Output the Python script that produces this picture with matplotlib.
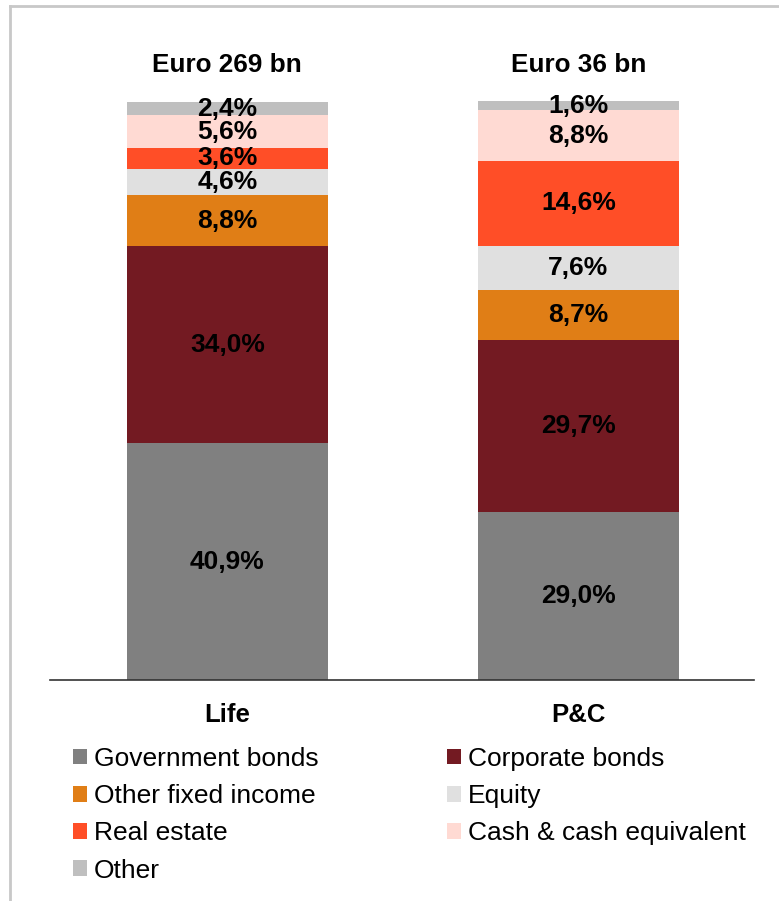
import matplotlib.pyplot as plt
from matplotlib.lines import Line2D
from matplotlib.patches import Patch

plt.rcParams['font.family'] = ['Liberation Sans', 'DejaVu Sans']

# Asset allocation per business line (%)
groups = ['Life', 'P&C']
totals = ['Euro 269 bn', 'Euro 36 bn']
categories = ['Government bonds', 'Corporate bonds', 'Other fixed income',
              'Equity', 'Real estate', 'Cash & cash equivalent', 'Other']
life = [40.9, 34.0, 8.8, 4.6, 3.6, 5.6, 2.4]
pc = [29.0, 29.7, 8.7, 7.6, 14.6, 8.8, 1.6]
colors = ['#808080', '#731A22', '#E07E16', '#E0E0E0', '#FF4E27', '#FFDAD3', '#BFBFBF']

fig = plt.figure(figsize=(7.79, 9.01), dpi=100)
ax = fig.add_axes([50 / 779, 1 - 680 / 901, 704 / 779, 579 / 901])

x = [0, 1]
width = 0.572
bottoms = [0.0, 0.0]
for i, cat in enumerate(categories):
    vals = [life[i], pc[i]]
    ax.bar(x, vals, width, bottom=bottoms, color=colors[i], label=cat)
    for j in range(2):
        ax.text(x[j], bottoms[j] + vals[j] / 2, f'{vals[j]:.1f}%'.replace('.', ','),
                ha='center', va='center', fontsize=19, fontweight='bold', color='black')
    bottoms = [bottoms[0] + vals[0], bottoms[1] + vals[1]]

for j in range(2):
    ax.text(x[j], 106.3, totals[j], ha='center', va='center', fontsize=18.8,
            fontweight='bold', clip_on=False)

ax.set_xlim(-0.505, 1.5)
ax.set_ylim(0, 100)
ax.set_xticks(x)
ax.set_xticklabels(groups, fontsize=18.5, fontweight='bold')
ax.tick_params(axis='x', length=0, pad=16.5)
ax.set_yticks([])
for side in ['left', 'right', 'top']:
    ax.spines[side].set_visible(False)
ax.spines['bottom'].set_color('#333333')
ax.spines['bottom'].set_linewidth(1.2)

# legend filled column-wise, so reorder to read row by row
order = [0, 2, 4, 6, 1, 3, 5]
handles = [Patch(facecolor=colors[k], edgecolor='none') for k in order]
labels = [categories[k] for k in order]
fig.legend(handles, labels, loc='upper left', bbox_to_anchor=(73 / 779, 1 - 747 / 901),
           ncol=2, frameon=False, fontsize=19, handlelength=0.53, handleheight=0.53,
           handletextpad=0.27, columnspacing=4.85, labelspacing=0.5, borderpad=0, borderaxespad=0)

# outer frame
fig.add_artist(Line2D([10 / 779, 1], [1 - 5.5 / 901] * 2, color='#C8C8C8', lw=2))
fig.add_artist(Line2D([10 / 779] * 2, [0, 1 - 5.5 / 901], color='#C8C8C8', lw=2))

fig.savefig('out.png', dpi=100)
